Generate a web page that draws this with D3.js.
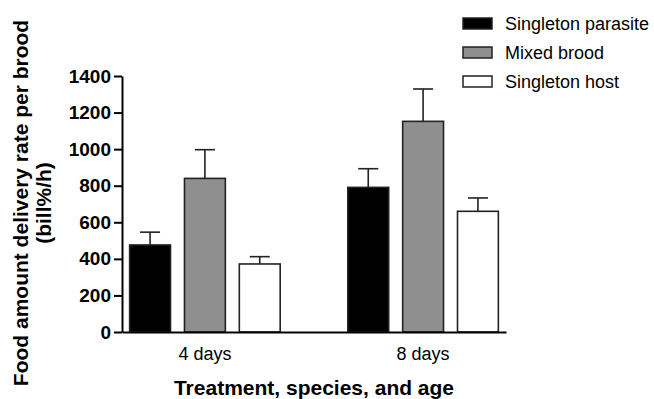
<!DOCTYPE html>
<html>
<head>
<meta charset="utf-8">
<title>Food amount delivery rate per brood</title>
<style>
  body { margin: 0; background: #fff; }
  svg { font-family: "Liberation Sans", Arial, sans-serif; }
  .axis path, .axis line { stroke: #000; stroke-width: 2px; fill: none; }
  .y.axis text { font-size: 19px; font-weight: bold; fill: #000; }
  .x.axis text { font-size: 18px; fill: #000; }
</style>
<script src="https://d3js.org/d3.v7.min.js"></script>
</head>
<body>
<script>
// ages on the x axis, three brood types per age
var ages = ["4 days", "8 days"];
var series = ["Singleton parasite", "Mixed brood", "Singleton host"];
var colors = ["#000000", "#8f8f8f", "#ffffff"];
// means and upper error (SE)
var parasiteVals = [476, 791];
var mixedVals = [840, 1152];
var hostVals = [372, 660];
var parasiteErr = [70, 102];
var mixedErr = [157, 177];
var hostErr = [40, 73];
var yTicks = [0, 200, 400, 600, 800, 1000, 1200, 1400];

var means = [parasiteVals, mixedVals, hostVals];
var errs = [parasiteErr, mixedErr, hostErr];

var margin = {top: 76, right: 148, bottom: 67, left: 122},
    width = 654 - margin.left - margin.right,
    height = 399 - margin.top - margin.bottom;

var svg = d3.select("body").append("svg")
    .attr("width", 654)
    .attr("height", 399);

var g = svg.append("g")
    .attr("transform", "translate(" + margin.left + "," + margin.top + ")");

var x0 = d3.scaleBand().domain(ages).range([0, width])
    .paddingInner(0.31).paddingOuter(0.035);
var x1 = d3.scaleBand().domain(series).range([0, x0.bandwidth()])
    .paddingInner(0.255).paddingOuter(0);
var y = d3.scaleLinear().domain([0, 1400]).range([height, 0]);

var rows = [];
ages.forEach(function (a, i) {
  series.forEach(function (s, j) {
    rows.push({age: a, series: s, value: means[j][i], err: errs[j][i], color: colors[j]});
  });
});

// error bars (upper only)
var eb = g.selectAll(".err").data(rows).enter().append("g").attr("class", "err")
    .attr("stroke", "#222").attr("stroke-width", 1.6);
eb.append("line")
    .attr("x1", function (d) { return x0(d.age) + x1(d.series) + x1.bandwidth() / 2; })
    .attr("x2", function (d) { return x0(d.age) + x1(d.series) + x1.bandwidth() / 2; })
    .attr("y1", function (d) { return y(d.value); })
    .attr("y2", function (d) { return y(d.value + d.err); });
eb.append("line")
    .attr("x1", function (d) { return x0(d.age) + x1(d.series) + x1.bandwidth() / 2 - 10; })
    .attr("x2", function (d) { return x0(d.age) + x1(d.series) + x1.bandwidth() / 2 + 10; })
    .attr("y1", function (d) { return y(d.value + d.err); })
    .attr("y2", function (d) { return y(d.value + d.err); });

// bars
g.selectAll(".bar").data(rows).enter().append("rect")
    .attr("class", "bar")
    .attr("x", function (d) { return x0(d.age) + x1(d.series); })
    .attr("y", function (d) { return y(d.value); })
    .attr("width", x1.bandwidth())
    .attr("height", function (d) { return height - y(d.value); })
    .attr("fill", function (d) { return d.color; })
    .attr("stroke", "#222")
    .attr("stroke-width", 1.6);

// axes
g.append("g").attr("class", "y axis")
    .call(d3.axisLeft(y).tickValues(yTicks).tickFormat(d3.format("d"))
      .tickSize(8).tickPadding(3).tickSizeOuter(0));
g.append("g").attr("class", "x axis")
    .attr("transform", "translate(0," + height + ")")
    .call(d3.axisBottom(x0).tickSize(0).tickPadding(15).tickSizeOuter(0));

// axis titles
svg.append("text")
    .attr("x", margin.left + width / 2)
    .attr("y", 395)
    .attr("text-anchor", "middle")
    .style("font-size", "21px").style("font-weight", "bold")
    .text("Treatment, species, and age");

var yt = svg.append("text")
    .attr("transform", "translate(28,203) rotate(-90)")
    .attr("text-anchor", "middle")
    .style("font-size", "21px").style("font-weight", "bold");
yt.append("tspan").attr("x", 0).attr("y", 0).text("Food amount delivery rate per brood");
yt.append("tspan").attr("x", 0).attr("y", 23).text("(bill%/h)");

// legend
var legend = svg.selectAll(".legend").data(series).enter().append("g")
    .attr("class", "legend")
    .attr("transform", function (d, i) { return "translate(463," + (18 + i * 29) + ")"; });
legend.append("rect")
    .attr("width", 29).attr("height", 11)
    .attr("fill", function (d, i) { return colors[i]; })
    .attr("stroke", "#222").attr("stroke-width", 1.5);
legend.append("text")
    .attr("x", 42).attr("y", 12)
    .style("font-size", "18px")
    .text(function (d) { return d; });
</script>
</body>
</html>
